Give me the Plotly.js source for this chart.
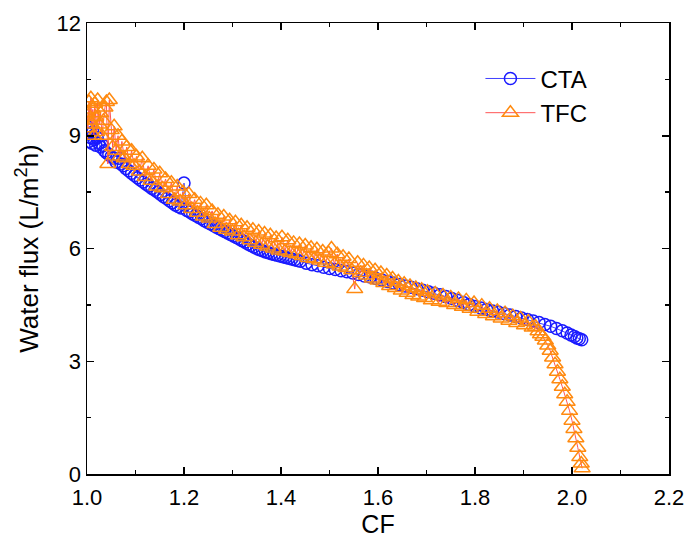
<!DOCTYPE html>
<html>
<head>
<meta charset="utf-8">
<script src="https://cdn.plot.ly/plotly-3.0.1.min.js"></script>
<style>html,body{margin:0;padding:0;background:#fff;}#chart{width:689px;height:541px;}</style>
</head>
<body>
<div id="chart"></div>
<script>
const seriesNames = ["CTA", "TFC"];

const ctaCF = [1.000,1.002,1.004,1.006,1.008,1.010,1.012,1.015,1.018,1.021,1.024,1.028,1.032,1.036,1.040,1.045,1.050,1.055,1.060,1.066,1.070,1.075,1.080,1.086,1.092,1.098,1.104,1.110,1.116,1.122,1.128,1.134,1.140,1.146,1.152,1.158,1.164,1.170,1.176,1.182,1.188,1.194,1.200,1.206,1.212,1.218,1.224,1.230,1.236,1.242,1.248,1.254,1.260,1.266,1.272,1.278,1.284,1.290,1.296,1.302,1.308,1.314,1.320,1.326,1.332,1.338,1.344,1.350,1.356,1.362,1.368,1.374,1.380,1.386,1.392,1.398,1.404,1.410,1.416,1.422,1.428,1.434,1.440,1.452,1.464,1.476,1.488,1.500,1.512,1.524,1.536,1.548,1.560,1.572,1.584,1.596,1.608,1.620,1.632,1.644,1.656,1.668,1.680,1.692,1.704,1.716,1.728,1.740,1.752,1.764,1.776,1.788,1.800,1.812,1.824,1.836,1.848,1.860,1.872,1.884,1.896,1.908,1.920,1.932,1.944,1.956,1.968,1.980,1.990,1.998,2.005,2.010,2.015,2.020];
const ctaFlux = [9.25,9.05,8.85,9.15,8.95,8.80,9.10,8.90,8.75,8.95,8.80,8.70,8.75,8.60,8.55,8.50,8.45,8.40,8.30,8.40,8.25,8.20,8.13,8.07,8.00,7.94,7.88,7.82,7.77,7.71,7.66,7.60,7.55,7.50,7.44,7.38,7.33,7.27,7.22,7.16,7.12,7.08,7.74,7.01,6.97,6.92,6.88,6.83,6.79,6.74,6.70,6.66,6.62,6.57,6.53,6.49,6.45,6.41,6.37,6.33,6.29,6.25,6.21,6.17,6.12,6.08,6.04,6.00,5.97,5.94,5.91,5.89,5.86,5.84,5.82,5.80,5.78,5.76,5.74,5.72,5.70,5.68,5.66,5.61,5.57,5.54,5.50,5.47,5.44,5.41,5.38,5.35,5.31,5.27,5.24,5.20,5.16,5.12,5.08,5.04,5.00,4.97,4.93,4.89,4.85,4.81,4.77,4.72,4.67,4.62,4.56,4.51,4.46,4.42,4.38,4.34,4.31,4.27,4.23,4.19,4.15,4.11,4.07,4.03,3.98,3.93,3.87,3.81,3.75,3.70,3.66,3.62,3.60,3.57];

const tfcCF = [1.000,1.002,1.004,1.006,1.008,1.010,1.012,1.014,1.016,1.018,1.020,1.022,1.025,1.028,1.031,1.034,1.037,1.040,1.043,1.046,1.050,1.053,1.056,1.060,1.064,1.068,1.072,1.077,1.082,1.087,1.092,1.097,1.102,1.108,1.114,1.120,1.126,1.132,1.138,1.144,1.150,1.156,1.162,1.168,1.174,1.180,1.186,1.192,1.198,1.204,1.210,1.216,1.222,1.228,1.234,1.240,1.246,1.252,1.258,1.264,1.270,1.276,1.282,1.288,1.294,1.300,1.306,1.312,1.318,1.324,1.330,1.336,1.342,1.348,1.354,1.360,1.366,1.372,1.378,1.384,1.390,1.396,1.402,1.408,1.414,1.420,1.426,1.432,1.438,1.444,1.450,1.456,1.462,1.468,1.474,1.480,1.486,1.492,1.498,1.504,1.510,1.516,1.522,1.528,1.534,1.540,1.546,1.552,1.558,1.564,1.570,1.576,1.582,1.588,1.594,1.600,1.606,1.612,1.618,1.624,1.630,1.636,1.642,1.648,1.654,1.660,1.666,1.672,1.678,1.684,1.690,1.696,1.702,1.710,1.718,1.726,1.734,1.742,1.750,1.758,1.766,1.774,1.782,1.790,1.798,1.806,1.814,1.822,1.830,1.838,1.846,1.854,1.862,1.870,1.878,1.886,1.894,1.902,1.910,1.918,1.925,1.930,1.935,1.940,1.945,1.950,1.955,1.960,1.965,1.970,1.975,1.980,1.985,1.990,1.995,2.000,2.004,2.008,2.012,2.016,2.019,2.021];
const tfcFlux = [9.60,9.20,9.90,9.40,10.00,9.30,9.70,9.00,9.85,9.50,9.10,9.95,9.30,9.60,9.00,9.40,9.75,9.90,8.25,9.95,9.15,8.70,9.25,8.60,9.00,8.45,8.85,8.40,8.70,8.25,8.60,8.20,8.45,8.05,8.40,7.90,8.20,7.80,8.10,7.65,8.00,7.60,7.85,7.45,7.75,7.30,7.65,7.25,7.50,7.15,7.45,7.05,7.30,6.95,7.20,6.85,7.15,6.80,7.00,6.65,6.90,6.55,6.85,6.50,6.75,6.45,6.70,6.35,6.62,6.30,6.55,6.22,6.50,6.15,6.45,6.10,6.40,6.05,6.35,6.00,6.28,5.95,6.30,5.92,6.22,5.88,6.15,5.85,6.12,5.80,6.08,5.75,6.02,5.72,5.98,5.68,5.92,5.62,5.88,6.00,5.58,5.85,5.52,5.78,5.48,5.72,5.42,4.92,5.62,5.35,5.55,5.28,5.48,5.20,5.42,5.15,5.35,5.08,5.28,5.00,5.20,4.95,5.12,4.88,5.06,4.82,5.00,4.76,4.95,4.72,4.90,4.68,4.85,4.62,4.80,4.58,4.75,4.55,4.70,4.50,4.66,4.45,4.62,4.40,4.55,4.32,4.48,4.26,4.40,4.20,4.34,4.14,4.28,4.08,4.20,4.02,4.14,3.96,4.06,3.90,3.92,3.80,3.72,3.65,3.55,3.42,3.28,3.10,2.92,2.72,2.52,2.32,2.12,1.92,1.68,1.42,1.20,0.95,0.70,0.45,0.28,0.15];

const xTicks = [1.0,1.2,1.4,1.6,1.8,2.0,2.2];
const xTickText = ["1.0","1.2","1.4","1.6","1.8","2.0","2.2"];
const yTicks = [0,3,6,9,12];

const FONT = 'Liberation Sans, Arial, sans-serif';

const traces = [
  {x: ctaCF, y: ctaFlux, name: seriesNames[0], type: 'scatter', mode: 'lines+markers',
   line: {color: '#4040ff', width: 1},
   marker: {symbol: 'circle-open', size: 12, color: '#1a1aff', line: {width: 1.5, color: '#1a1aff'}}},
  {x: tfcCF, y: tfcFlux, name: seriesNames[1], type: 'scatter', mode: 'lines+markers',
   line: {color: '#ff5555', width: 1},
   marker: {symbol: 'triangle-up-open', size: 14, color: '#ff8a10', line: {width: 1.5, color: '#ff8a10'}}}
];

const axisCommon = {
  showline: true, linecolor: '#000', linewidth: 1.5, mirror: 'allticks',
  ticks: 'inside', ticklen: 7, tickwidth: 1.5, tickcolor: '#000',
  showgrid: false, zeroline: false,
  tickfont: {family: FONT, size: 22, color: '#000'}
};

const layout = {
  width: 689, height: 541,
  margin: {l: 87, r: 20, t: 23, b: 67},
  paper_bgcolor: '#fff', plot_bgcolor: '#fff',
  showlegend: true,
  xaxis: Object.assign({}, axisCommon, {
    range: [1.0, 2.2], tickvals: xTicks, ticktext: xTickText, ticklabelstandoff: 3,
    minor: {ticks: 'inside', ticklen: 4, tickwidth: 1.5, tickcolor: '#000', dtick: 0.1, showgrid: false},
    title: {text: 'CF', font: {family: FONT, size: 25, color: '#000'}, standoff: 5}
  }),
  yaxis: Object.assign({}, axisCommon, {
    range: [0, 12], tickvals: yTicks,
    minor: {ticks: 'inside', ticklen: 4, tickwidth: 1.5, tickcolor: '#000', dtick: 1.5, showgrid: false},
    title: {text: 'Water flux (L/m<sup>2</sup>h)', font: {family: FONT, size: 26, color: '#000'}, standoff: 10}
  }),
  legend: {
    x: 0.676, y: 0.926, xanchor: 'left', yanchor: 'top',
    bgcolor: 'rgba(0,0,0,0)', borderwidth: 0,
    font: {family: FONT, size: 24, color: '#000'},
    itemwidth: 50, tracegroupgap: 0
  }
};

Plotly.newPlot('chart', traces, layout, {displayModeBar: false, staticPlot: true});
</script>
</body>
</html>
